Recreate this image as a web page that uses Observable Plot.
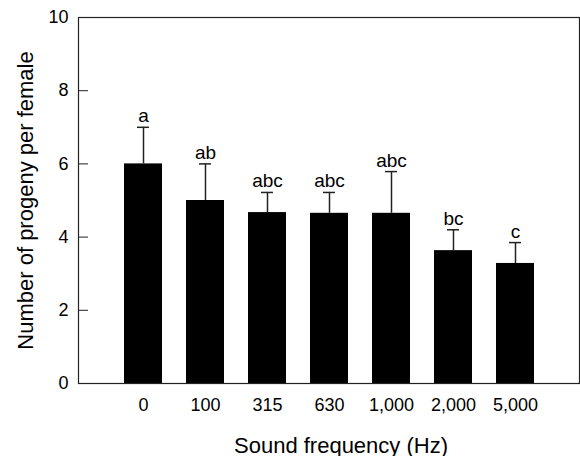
<!DOCTYPE html>
<html>
<head>
<meta charset="utf-8">
<script src="https://cdn.jsdelivr.net/npm/d3@7"></script>
<script src="https://cdn.jsdelivr.net/npm/@observablehq/plot@0.6"></script>
<style>
  html, body { margin: 0; padding: 0; background: white; }
</style>
</head>
<body>
<div id="chart"></div>
<script>
const frequencies = ["0", "100", "315", "630", "1,000", "2,000", "5,000"];
const means = [6.0, 5.0, 4.67, 4.65, 4.65, 3.63, 3.28];
const errors = [1.0, 1.0, 0.55, 0.57, 1.14, 0.57, 0.57];
const letters = ["a", "ab", "abc", "abc", "abc", "bc", "c"];
const yTicks = [0, 2, 4, 6, 8, 10];
const xTitle = "Sound frequency (Hz)";
const yTitle = "Number of progeny per female";

const data = frequencies.map((f, i) => ({f, m: means[i], e: errors[i], l: letters[i]}));

const font = "'Liberation Sans', Arial, Helvetica, sans-serif";

const chart = Plot.plot({
  width: 580,
  height: 456,
  marginTop: 17,
  marginBottom: 73,
  marginLeft: 78,
  marginRight: 1,
  style: {fontFamily: font, fontSize: "18px", background: "white", color: "black"},
  x: {type: "band", domain: frequencies, range: [97.6, 560.2], padding: 0.39},
  y: {domain: [0, 10]},
  marks: [
    Plot.barY(data, {x: "f", y: "m", fill: "black"}),
    Plot.ruleX(data, {x: "f", y1: "m", y2: d => d.m + d.e, stroke: "#222", strokeWidth: 1.5}),
    Plot.tickY(data, {x: "f", y: d => d.m + d.e, stroke: "#222", strokeWidth: 1.5, insetLeft: 13, insetRight: 13}),
    Plot.text(data, {x: "f", y: d => d.m + d.e, text: "l", dy: -5, lineAnchor: "bottom", fontSize: 19, fill: "black"}),
    Plot.axisY({ticks: yTicks, tickSize: -10, tickPadding: 20, fontSize: 18, label: null, stroke: "#222"}),
    Plot.axisX({tickSize: 0, tickPadding: 15, fontSize: 18, label: null}),
    Plot.frame({stroke: "#222", strokeWidth: 1.2}),
    Plot.text([xTitle], {text: d => d, frameAnchor: "bottom", dx: 12, dy: 69, lineAnchor: "bottom", textAnchor: "middle", fontSize: 22, fill: "black"}),
    Plot.text([yTitle], {text: d => d, frameAnchor: "left", dx: -46, rotate: -90, lineAnchor: "bottom", textAnchor: "middle", fontSize: 22, fill: "black"})
  ]
});
document.getElementById("chart").appendChild(chart);
</script>
</body>
</html>
